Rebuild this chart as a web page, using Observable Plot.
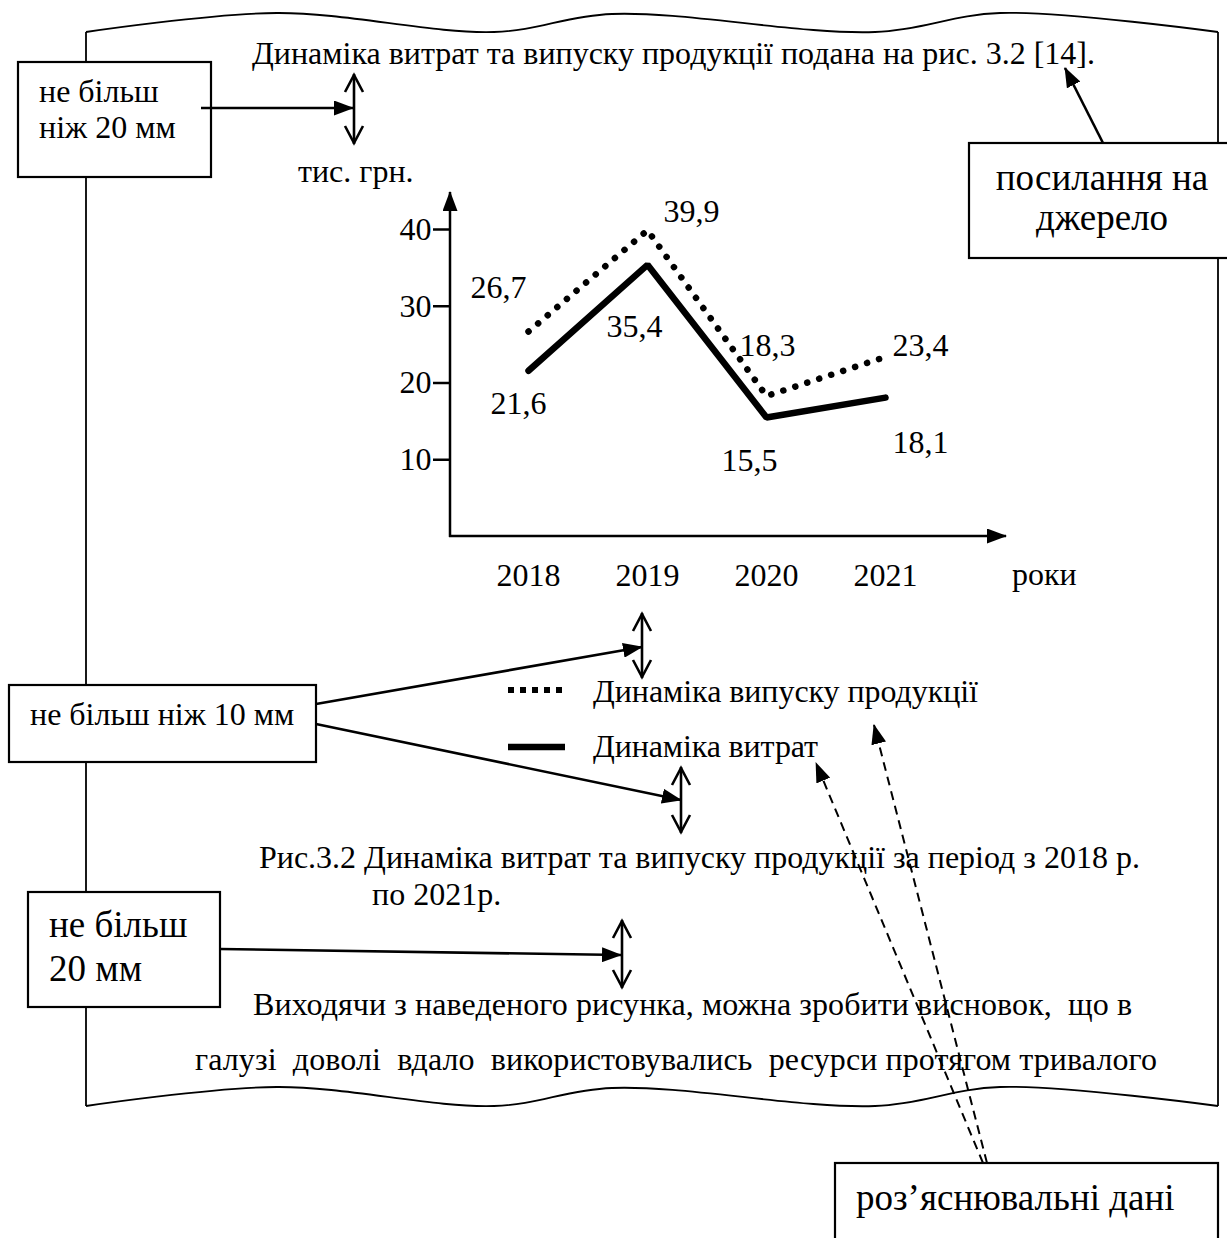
<!DOCTYPE html>
<html><head><meta charset="utf-8">
<script src="https://cdn.jsdelivr.net/npm/d3@7"></script>
<script src="https://cdn.jsdelivr.net/npm/@observablehq/plot@0.6"></script>
<style>
body{margin:0;background:#fff;}
#chart{position:relative;width:1227px;height:1238px;overflow:hidden;background:#fff;}
svg text{white-space:pre;}
</style></head><body><div id="chart"></div>
<script>
// ---------- data ----------
const years = [2018, 2019, 2020, 2021];
const outputValues = [26.7, 39.9, 18.3, 23.4];   // Динаміка випуску продукції
const costValues   = [21.6, 35.4, 15.5, 18.1];   // Динаміка витрат
const seriesNames = ["Динаміка випуску продукції", "Динаміка витрат"];
const yTicks = [10, 20, 30, 40];
const yUnit = "тис. грн.";
const xUnit = "роки";

// ---------- layout (pixels) ----------
const FONT = "'Liberation Serif', 'Times New Roman', Tinos, serif";
const FS = 32;
const FS_BIG = 37;
const labelOffsets = [
  [[-30, -34], [44, -8], [1, -40], [35, -1]],   // output
  [[-10, 43], [-13, 72], [-17, 53], [35, 55]]   // costs
];

const rows = [
  ...years.map((yr, i) => ({year: yr, value: outputValues[i], s: 0, i})),
  ...years.map((yr, i) => ({year: yr, value: costValues[i], s: 1, i}))
];
const fmt = v => String(v).replace(".", ",");

const chart = Plot.plot({
  width: 1227, height: 1238,
  marginLeft: 450, marginRight: 221, marginTop: 192, marginBottom: 702,
  style: {fontFamily: FONT, fontSize: FS + "px", color: "black", background: "white", overflow: "visible"},
  x: {type: "point", domain: years, range: [527, 885], padding: 0},
  y: {domain: [0, 40], range: [536, 229]},
  marks: [
    Plot.axisY({ticks: yTicks, tickSize: 17, tickPadding: 2, strokeWidth: 2.5, label: null, fontSize: FS}),
    Plot.axisX({tickSize: 0, tickPadding: 27, label: null, fontSize: FS, tickFormat: d => String(d)}),
    Plot.line(rows.filter(d => d.s === 0), {x: "year", y: "value", stroke: "black", strokeWidth: 6.5,
      strokeDasharray: "0.1 12.5", strokeLinecap: "round"}),
    Plot.line(rows.filter(d => d.s === 1), {x: "year", y: "value", stroke: "black", strokeWidth: 6.5,
      strokeLinejoin: "miter"}),
    ...rows.map(r => Plot.text([r], {x: "year", y: "value", text: d => fmt(d.value),
      dx: labelOffsets[r.s][r.i][0], dy: labelOffsets[r.s][r.i][1], lineAnchor: "bottom", fontSize: FS}))
  ]
});
document.getElementById("chart").appendChild(chart);

// ---------- overlay decorations ----------
const svg = d3.select(chart);
const defs = svg.append("defs");
defs.append("marker").attr("id", "head").attr("markerUnits", "userSpaceOnUse")
  .attr("markerWidth", 20).attr("markerHeight", 15).attr("refX", 19).attr("refY", 7.5)
  .attr("orient", "auto").append("path").attr("d", "M0,0 L20,7.5 L0,15 Z").attr("fill", "black");

const g = svg.append("g").attr("fill", "none").attr("stroke", "black");

// chart axis lines with arrows
const ys = chart.scale("y");
const y0 = ys.apply(0);
g.append("line").attr("x1", 450).attr("y1", y0 + 1).attr("x2", 450).attr("y2", 192)
  .attr("stroke-width", 2.5).attr("marker-end", "url(#head)");
g.append("line").attr("x1", 449).attr("y1", y0).attr("x2", 1006).attr("y2", y0)
  .attr("stroke-width", 2.5).attr("marker-end", "url(#head)");

// page border (wavy top and bottom)
const waveTop = [[86, 32], [277, 13], [494, 32], [612, 14], [875, 32], [1000, 13], [1218, 32]];
const waveBot = waveTop.map(([x, y]) => [x, y + 1074]);
const curve = d3.line().curve(d3.curveCatmullRom.alpha(0.5));
g.append("path").attr("d", curve(waveTop)).attr("stroke-width", 1.8);
g.append("path").attr("d", curve(waveBot)).attr("stroke-width", 1.8);
g.append("line").attr("x1", 86).attr("y1", 32).attr("x2", 86).attr("y2", 1106).attr("stroke-width", 1.8);
g.append("line").attr("x1", 1218).attr("y1", 32).attr("x2", 1218).attr("y2", 1106).attr("stroke-width", 1.8);

// boxes
const boxes = [
  [18, 62, 193, 115], [969, 143, 280, 115], [9, 685, 307, 77], [28, 892, 192, 115], [835, 1163, 383, 100]
];
boxes.forEach(([x, y, w, h]) => g.append("rect").attr("x", x).attr("y", y).attr("width", w).attr("height", h)
  .attr("fill", "white").attr("stroke-width", 2.2));

// solid arrows
const arrows = [
  [201, 108, 353, 108], [1103, 143, 1065, 68], [316, 704, 642, 647], [316, 724, 681, 800], [220, 949, 621, 955]
];
arrows.forEach(([x1, y1, x2, y2]) => g.append("line").attr("x1", x1).attr("y1", y1).attr("x2", x2).attr("y2", y2)
  .attr("stroke-width", 2.6).attr("marker-end", "url(#head)"));

// double vertical arrows with open heads
const dbl = [[354, 74, 144], [642, 613, 678], [681, 767, 833], [622, 920, 988]];
dbl.forEach(([x, t, b]) => {
  g.append("line").attr("x1", x).attr("y1", t).attr("x2", x).attr("y2", b).attr("stroke-width", 2.6);
  g.append("path").attr("d", `M${x - 9},${t + 18} L${x},${t + 1} L${x + 9},${t + 18}`).attr("stroke-width", 2.6);
  g.append("path").attr("d", `M${x - 9},${b - 18} L${x},${b - 1} L${x + 9},${b - 18}`).attr("stroke-width", 2.6);
});

// legend samples
g.append("line").attr("x1", 508).attr("y1", 690).attr("x2", 562).attr("y2", 690)
  .attr("stroke-width", 6).attr("stroke-dasharray", "6 6");
g.append("line").attr("x1", 508).attr("y1", 747).attr("x2", 565).attr("y2", 747).attr("stroke-width", 6.5);

// texts
const notes = [
  {t: "Динаміка витрат та випуску продукції подана на рис. 3.2 [14].", x: 252, y: 64, w: 843},
  {t: "не більш", x: 39, y: 102}, {t: "ніж 20 мм", x: 39, y: 138},
  {t: yUnit, x: 298, y: 182},
  {t: "посилання на", x: 1102, y: 190, a: "middle", fs: FS_BIG}, {t: "джерело", x: 1102, y: 230, a: "middle", fs: FS_BIG},
  {t: xUnit, x: 1012, y: 585},
  {t: seriesNames[0], x: 593, y: 702, w: 385}, {t: seriesNames[1], x: 593, y: 757, w: 225},
  {t: "не більш ніж 10 мм", x: 30, y: 725},
  {t: "Рис.3.2 Динаміка витрат та випуску продукції за період з 2018 р.", x: 259, y: 868, w: 881},
  {t: "по 2021р.", x: 372, y: 905},
  {t: "не більш", x: 49, y: 937, fs: FS_BIG}, {t: "20 мм", x: 49, y: 981, fs: FS_BIG},
  {t: "Виходячи з наведеного рисунка, можна зробити висновок,  що в", x: 253, y: 1015, w: 879},
  {t: "галузі  доволі  вдало  використовувались  ресурси протягом тривалого", x: 195, y: 1070, w: 962},
  {t: "роз’яснювальні дані", x: 856, y: 1210, fs: FS_BIG}
];
const tg = svg.append("g").attr("fill", "black").attr("font-family", FONT).attr("font-size", FS);
notes.forEach(n => {
  const el = tg.append("text").attr("x", n.x).attr("y", n.y).attr("text-anchor", n.a || "start").text(n.t);
  if (n.fs) el.attr("font-size", n.fs);
  if (n.w) el.attr("textLength", n.w).attr("lengthAdjust", "spacing");
});

// dashed arrows on top
const gf = svg.append("g").attr("fill", "none").attr("stroke", "black");
const dashed = [[987, 1163, 874, 725], [983, 1163, 816, 763]];
dashed.forEach(([x1, y1, x2, y2]) => gf.append("line").attr("x1", x1).attr("y1", y1).attr("x2", x2).attr("y2", y2)
  .attr("stroke-width", 2).attr("stroke-dasharray", "9 6").attr("marker-end", "url(#head)"));
</script>
</body></html>
